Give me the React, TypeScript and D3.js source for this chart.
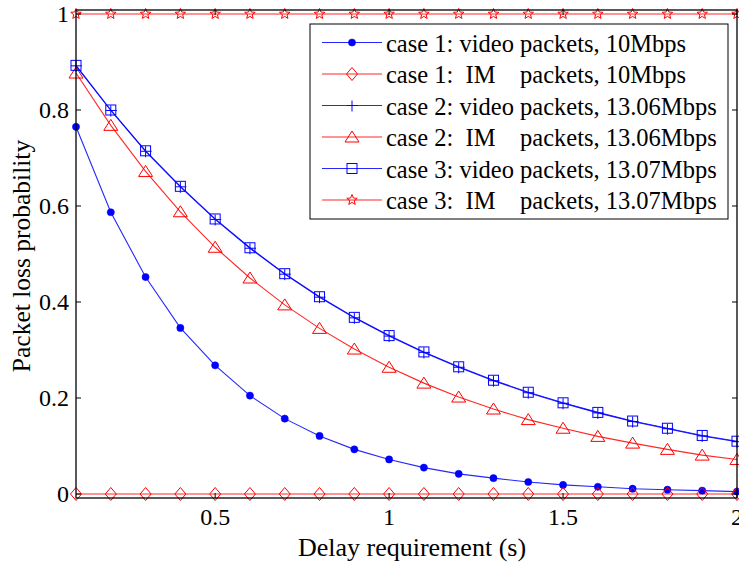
import React from "react";
import * as d3 from "d3";

const delays = [0.1, 0.2, 0.3, 0.4, 0.5, 0.6, 0.7, 0.8, 0.9, 1.0, 1.1, 1.2, 1.3, 1.4, 1.5, 1.6, 1.7, 1.8, 1.9, 2.0];
const case1Video = [0.765, 0.587, 0.452, 0.346, 0.268, 0.205, 0.157, 0.121, 0.093, 0.072, 0.055, 0.042, 0.033, 0.025, 0.019, 0.015, 0.011, 0.009, 0.007, 0.005];
const case1IM = [0, 0, 0, 0, 0, 0, 0, 0, 0, 0, 0, 0, 0, 0, 0, 0, 0, 0, 0, 0];
const case2Video = [0.892, 0.799, 0.714, 0.640, 0.572, 0.512, 0.458, 0.410, 0.367, 0.329, 0.295, 0.264, 0.236, 0.211, 0.189, 0.169, 0.151, 0.136, 0.121, 0.109];
const case2IM = [0.877, 0.768, 0.672, 0.588, 0.514, 0.450, 0.394, 0.345, 0.302, 0.264, 0.231, 0.202, 0.177, 0.155, 0.137, 0.120, 0.106, 0.093, 0.081, 0.072];
const case3Video = [0.893, 0.800, 0.715, 0.641, 0.573, 0.513, 0.459, 0.411, 0.368, 0.330, 0.296, 0.265, 0.237, 0.212, 0.190, 0.170, 0.152, 0.137, 0.122, 0.110];
const case3IM = [1, 1, 1, 1, 1, 1, 1, 1, 1, 1, 1, 1, 1, 1, 1, 1, 1, 1, 1, 1];

const legendLabels = [
  "case 1: video packets, 10Mbps",
  "case 1:  IM    packets, 10Mbps",
  "case 2: video packets, 13.06Mbps",
  "case 2:  IM    packets, 13.06Mbps",
  "case 3: video packets, 13.07Mbps",
  "case 3:  IM    packets, 13.07Mbps",
];
const xTicks = [0.5, 1, 1.5, 2];
const yTicks = [0, 0.2, 0.4, 0.6, 0.8, 1];
const xTickLabels = ["0.5", "1", "1.5", "2"];
const yTickLabels = ["0", "0.2", "0.4", "0.6", "0.8", "1"];

const BLUE = "#0000ff";
const RED = "#ff0000";
const FONT = "Liberation Serif, Times New Roman, DejaVu Serif, serif";

type Marker = "dot" | "diamond" | "plus" | "triangle" | "square" | "star";

const seriesList: { values: number[]; color: string; marker: Marker }[] = [
  { values: case1Video, color: BLUE, marker: "dot" },
  { values: case1IM, color: RED, marker: "diamond" },
  { values: case2Video, color: BLUE, marker: "plus" },
  { values: case2IM, color: RED, marker: "triangle" },
  { values: case3Video, color: BLUE, marker: "square" },
  { values: case3IM, color: RED, marker: "star" },
];

function starPath(r: number, ri: number) {
  const pts: string[] = [];
  for (let i = 0; i < 10; i++) {
    const a = -Math.PI / 2 + (i * Math.PI) / 5;
    const rr = i % 2 === 0 ? r : ri;
    pts.push(`${(rr * Math.cos(a)).toFixed(2)},${(rr * Math.sin(a)).toFixed(2)}`);
  }
  return "M" + pts.join("L") + "Z";
}

function MarkerShape({ type, x, y, color }: { type: Marker; x: number; y: number; color: string }) {
  const t = `translate(${x},${y})`;
  switch (type) {
    case "dot":
      return <circle cx={x} cy={y} r={3.6} fill={color} stroke={color} strokeWidth={0.5} />;
    case "diamond":
      return <path transform={t} d="M0,-6.5L5.5,0L0,6.5L-5.5,0Z" fill="none" stroke={color} strokeWidth={1} />;
    case "plus":
      return <path transform={t} d="M-5,0L6,0M0,-5L0,6" fill="none" stroke={color} strokeWidth={1} />;
    case "triangle":
      return <path transform={t} d="M0,-6L7,5L-7,5Z" fill="none" stroke={color} strokeWidth={1} />;
    case "square":
      return <rect x={x - 5} y={y - 5} width={10} height={10} fill="none" stroke={color} strokeWidth={1} />;
    case "star":
      return <path transform={t} d={starPath(5.5, 2.4)} fill="none" stroke={color} strokeWidth={1} />;
  }
  return null;
}

const textStyle: React.CSSProperties = { fontFamily: FONT };

export default function App() {
  const W = 739;
  const H = 563;
  const left = 76;
  const right = 737;
  const top = 10;
  const bottom = 498;
  const x = d3.scaleLinear().domain([0.1, 2]).range([left, right]);
  const y = d3.scaleLinear().domain([-0.00833, 1.00833]).range([bottom, top]);
  const line = d3
    .line<number>()
    .x((_, i) => x(delays[i]))
    .y((d) => y(d));

  const lg = { x: 310, y: 24, w: 418, h: 195 };
  const rowY = (i: number) => 42.5 + i * 31.5;

  return (
    <svg width={W} height={H} style={{ position: "absolute", left: 0, top: 0, background: "#fff" }}>
      <rect x={0} y={0} width={W} height={H} fill="#fff" />
      {seriesList.map((s, si) => (
        <path key={"l" + si} d={line(s.values) || ""} fill="none" stroke={s.color} strokeWidth={1.1} strokeOpacity={0.85} />
      ))}
      {seriesList.map((s, si) => (
        <g key={"m" + si}>
          {s.values.map((v, i) => (
            <MarkerShape key={i} type={s.marker} x={x(delays[i])} y={y(v)} color={s.color} />
          ))}
        </g>
      ))}
      <rect x={left} y={top} width={right - left} height={bottom - top} fill="none" stroke="#000" strokeWidth={1.3} />
      {yTicks.map((t, i) => (
        <g key={"yt" + i}>
          <line x1={left} x2={left + 5} y1={y(t)} y2={y(t)} stroke="#000" strokeWidth={1} />
          <line x1={right} x2={right - 5} y1={y(t)} y2={y(t)} stroke="#000" strokeWidth={1} />
          <text x={69} y={y(t) + 8} fontSize={24} textAnchor="end" fill="#000" style={textStyle}>
            {yTickLabels[i]}
          </text>
        </g>
      ))}
      {xTicks.map((t, i) => (
        <g key={"xt" + i}>
          <line x1={x(t)} x2={x(t)} y1={bottom} y2={bottom - 5} stroke="#000" strokeWidth={1} />
          <line x1={x(t)} x2={x(t)} y1={top} y2={top + 5} stroke="#000" strokeWidth={1} />
          <text x={x(t)} y={525} fontSize={24} textAnchor="middle" fill="#000" style={textStyle}>
            {xTickLabels[i]}
          </text>
        </g>
      ))}
      <text x={412} y={556} fontSize={26} textAnchor="middle" fill="#000" style={textStyle}>
        Delay requirement (s)
      </text>
      <text
        transform={`translate(30,${(top + bottom) / 2 + 2}) rotate(-90)`}
        fontSize={25.5}
        textAnchor="middle"
        fill="#000"
        style={textStyle}
      >
        Packet loss probability
      </text>
      <rect x={lg.x} y={lg.y} width={lg.w} height={lg.h} fill="#fff" stroke="#000" strokeWidth={1} />
      {seriesList.map((s, i) => (
        <g key={"lg" + i}>
          <line x1={322} x2={382} y1={rowY(i)} y2={rowY(i)} stroke={s.color} strokeWidth={1.1} strokeOpacity={0.85} />
          <MarkerShape type={s.marker} x={352} y={rowY(i)} color={s.color} />
          <text x={386} y={rowY(i) + 9} fontSize={24.5} fill="#000" style={{ ...textStyle, whiteSpace: "pre" }}>
            {legendLabels[i]}
          </text>
        </g>
      ))}
    </svg>
  );
}
